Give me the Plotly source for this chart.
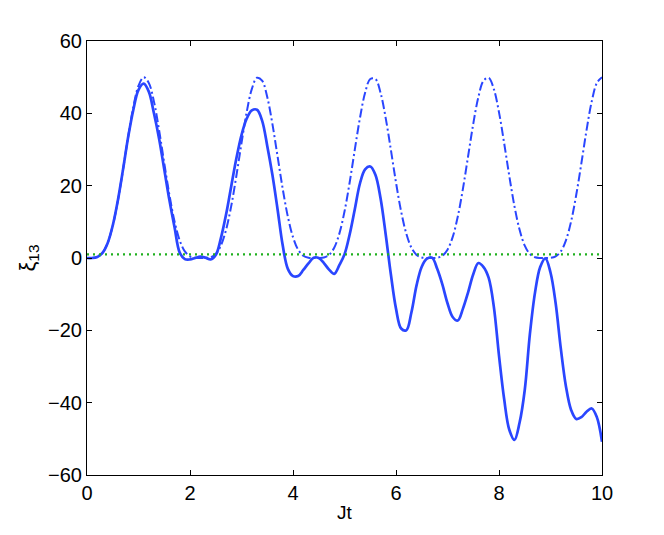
import plotly.graph_objects as go

jt = [round(i * 0.1, 1) for i in range(101)]

xi13_solid = [
    0.0, 0.0, 0.3, 1.4, 4.1, 9.0, 16.0, 24.5, 33.5, 41.0,
    46.5, 48.2, 46.0, 40.0, 33.0, 24.5, 16.0, 8.5, 1.5, -0.3,
    -0.4, 0.0, 0.4, 0.1, -0.4, 0.8, 5.5, 12.0, 19.8, 27.5,
    34.0, 38.5, 40.8, 41.0, 38.0, 31.0, 23.0, 13.5, 3.5, -3.0,
    -5.0, -5.0, -3.3, -1.5, 0.1, 0.0, -1.4, -3.2, -4.4, -2.0,
    1.0, 6.5, 13.5, 20.6, 24.5, 25.3, 23.0, 16.5, 6.5, -4.5,
    -14.0, -19.5, -20.0, -15.0, -7.5, -2.4, -0.2, 0.1, -3.0, -7.3,
    -12.5, -16.3, -17.3, -14.0, -9.5, -4.5, -1.4, -2.5, -5.5, -13.5,
    -27.0, -39.0, -47.5, -50.3, -45.5, -36.5, -21.0, -9.5, -2.5, -0.1,
    -4.0, -12.5, -25.0, -35.5, -42.0, -44.5, -44.0, -42.5, -41.6, -44.0,
    -50.8,
]

xi13_dashdot = [
    0.00, 0.02, 0.30, 1.44, 4.14, 8.93, 15.88, 24.48, 33.59, 41.78,
    47.63, 49.98, 48.40, 43.24, 35.37, 26.22, 17.48, 10.12, 4.88, 1.82,
    0.44, 0.04, 0.00, 0.01, 0.20, 1.11, 3.44, 7.79, 14.33, 22.67,
    31.77, 40.28, 46.71, 49.82, 49.03, 44.50, 37.08, 28.13, 19.15, 11.44,
    5.77, 2.29, 0.62, 0.08, 0.00, 0.00, 0.13, 0.84, 2.83, 6.74,
    12.85, 20.88, 29.95, 38.71, 45.67, 49.50, 49.49, 45.67, 38.69, 29.95,
    20.87, 12.84, 6.74, 2.83, 0.84, 0.13, 0.00, 0.00, 0.07, 0.62,
    2.29, 5.78, 11.47, 19.17, 28.13, 37.10, 44.50, 49.03, 49.82, 46.71,
    40.28, 31.77, 22.67, 14.33, 7.79, 3.44, 1.11, 0.20, 0.01, 0.00,
    0.04, 0.44, 1.82, 4.88, 10.12, 17.48, 26.22, 35.37, 43.24, 48.40,
    49.98,
]

ref_x = [0, 10]
ref_y = [1.0, 1.0]

x_ticks = [0, 2, 4, 6, 8, 10]
y_ticks = [-60, -40, -20, 0, 20, 40, 60]

BLUE = "#2a46ff"
GREEN = "#1fb01f"
FONT = "Liberation Sans, Arial, sans-serif"

fig = go.Figure()
fig.add_trace(go.Scatter(x=jt, y=xi13_solid, mode="lines",
                         line=dict(color=BLUE, width=2.7, shape="spline", smoothing=1.0),
                         showlegend=False))
fig.add_trace(go.Scatter(x=jt, y=xi13_dashdot, mode="lines",
                         line=dict(color=BLUE, width=2, dash="9px,3px,2px,3px",
                                   shape="spline", smoothing=1.0),
                         showlegend=False))
fig.add_trace(go.Scatter(x=ref_x, y=ref_y, mode="lines",
                         line=dict(color=GREEN, width=2.2, dash="2px,4px"),
                         showlegend=False))

axis_common = dict(
    showgrid=False, zeroline=False, showline=True, linecolor="black", linewidth=1,
    mirror="ticks", ticks="inside", ticklen=5, tickcolor="black",
    tickfont=dict(family=FONT, size=20, color="black"),
)

fig.update_layout(
    width=656, height=527,
    margin=dict(l=79, r=62, t=33, b=60),
    paper_bgcolor="white", plot_bgcolor="white",
    xaxis=dict(range=[0, 10], tickvals=x_ticks, **axis_common,
               title=dict(text="Jt", font=dict(family=FONT, size=19, color="black"),
                          standoff=2)),
    yaxis=dict(range=[-60, 60], tickvals=y_ticks, **axis_common,
               title=dict(text="ξ<sub>13</sub>", font=dict(family=FONT, size=22, color="black"),
                          standoff=6)),
)

fig.write_html("out.html")
